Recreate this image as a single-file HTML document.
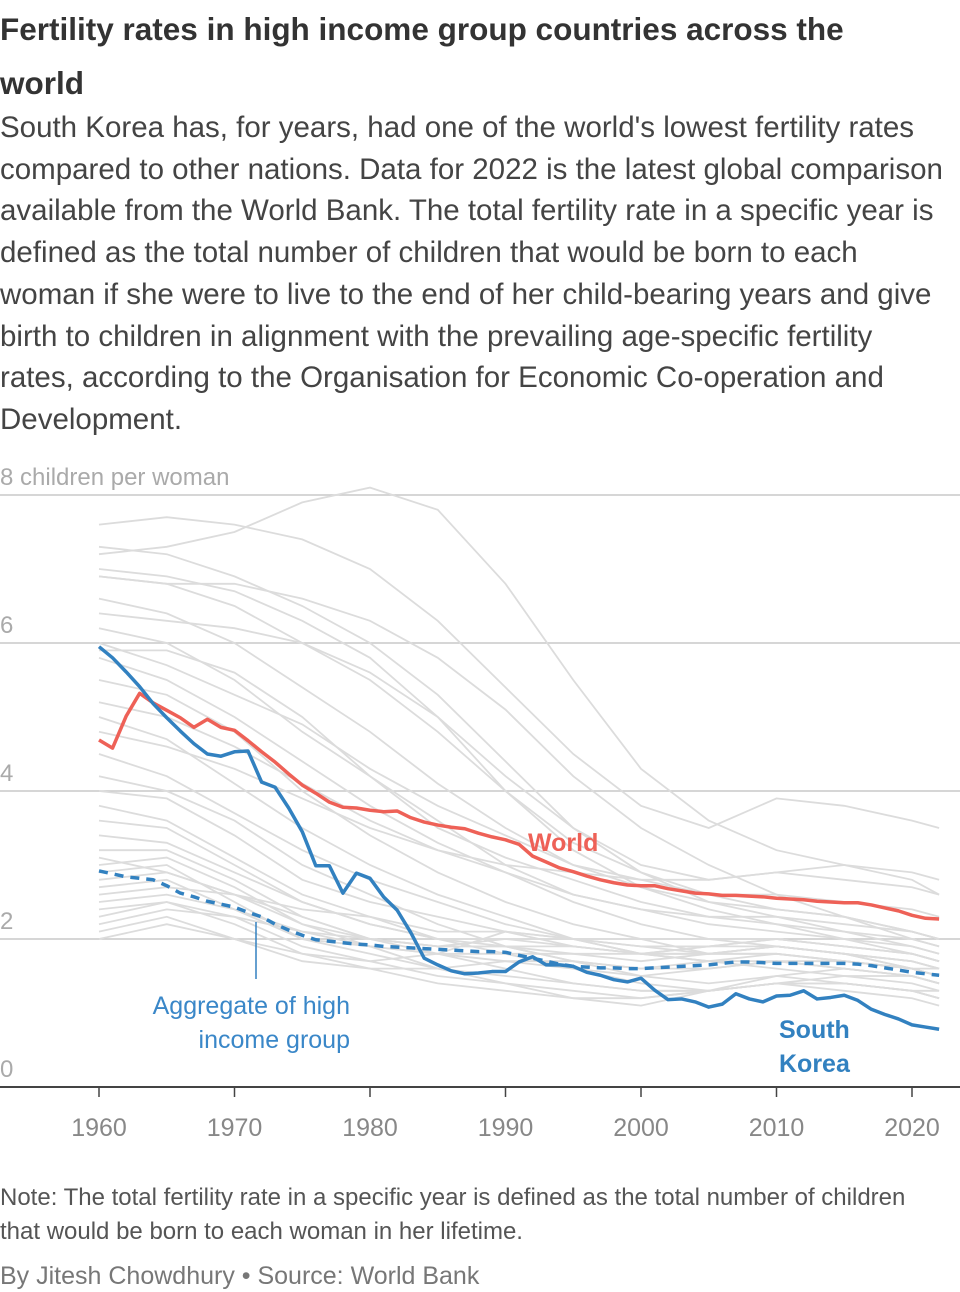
<!DOCTYPE html>
<html><head><meta charset="utf-8">
<style>
body{margin:0;width:960px;height:1292px;background:#fff;position:relative;overflow:hidden;font-family:"Liberation Sans",sans-serif;}
.t{position:absolute;left:0;white-space:nowrap;}
#title{top:2px;font-size:31.5px;font-weight:bold;color:#333;line-height:54px;}
#sub{top:107px;font-size:29.5px;color:#444;line-height:41.7px;}
#note{top:1181px;font-size:24px;color:#555;line-height:34px;}
#by{top:1262px;font-size:25px;color:#777;}
svg{position:absolute;left:0;top:0;}
</style></head><body>
<div class="t" id="title">Fertility rates in high income group countries across the<br>world</div>
<div class="t" id="sub">South Korea has, for years, had one of the world's lowest fertility rates<br>compared to other nations. Data for 2022 is the latest global comparison<br>available from the World Bank. The total fertility rate in a specific year is<br>defined as the total number of children that would be born to each<br>woman if she were to live to the end of her child-bearing years and give<br>birth to children in alignment with the prevailing age-specific fertility<br>rates, according to the Organisation for Economic Co-operation and<br>Development.</div>
<svg id="chart" width="960" height="1160"></svg>
<div class="t" id="note">Note: The total fertility rate in a specific year is defined as the total number of children<br>that would be born to each woman in her lifetime.</div>
<div class="t" id="by">By Jitesh Chowdhury • Source: World Bank</div>
<script>
const yTicks=[0,2,4,6,8];
const xTicks=[1960,1970,1980,1990,2000,2010,2020];
const greyYears=[1960,1965,1970,1975,1980,1985,1990,1995,2000,2005,2010,2015,2020,2022];
const greySeries=[
[7.2,7.3,7.5,7.9,8.1,7.8,6.8,5.5,4.3,3.6,3.2,3.0,2.8,2.6],
[7.6,7.7,7.6,7.4,7.0,6.3,5.4,4.5,3.8,3.5,3.9,3.8,3.6,3.5],
[7.3,7.2,6.9,6.5,6.0,5.3,4.4,3.5,2.9,2.5,2.3,2.1,1.9,1.8],
[6.9,6.8,6.5,6.0,5.5,4.8,4.0,3.3,2.9,2.6,2.6,2.5,2.4,2.3],
[6.6,6.4,6.0,5.4,4.8,4.1,3.5,3.0,2.7,2.5,2.4,2.3,2.1,2.0],
[6.2,6.0,5.5,4.8,4.2,3.6,3.0,2.6,2.4,2.2,2.1,2.0,1.8,1.7],
[5.8,5.5,5.0,4.4,3.8,3.3,2.9,2.5,2.2,2.0,1.9,1.8,1.7,1.6],
[7.0,6.9,6.7,6.3,5.8,5.0,4.0,3.2,2.7,2.4,2.2,2.0,1.9,1.8],
[5.5,5.3,4.8,4.0,3.4,2.9,2.5,2.2,2.0,1.8,1.8,1.7,1.6,1.5],
[5.0,4.7,4.1,3.5,3.0,2.6,2.3,2.0,1.8,1.7,1.6,1.5,1.4,1.3],
[4.5,4.2,3.7,3.2,2.8,2.5,2.2,2.0,1.9,1.9,1.9,1.8,1.7,1.6],
[6.4,6.3,6.2,6.0,5.6,5.0,4.2,3.5,3.0,2.8,2.9,3.0,2.9,2.8],
[4.0,3.9,3.4,2.8,2.5,2.3,2.1,1.9,1.8,1.7,1.7,1.6,1.5,1.4],
[3.6,3.5,3.0,2.5,2.2,2.0,1.9,1.7,1.6,1.6,1.7,1.6,1.5,1.4],
[3.0,3.1,2.7,2.2,1.9,1.8,1.7,1.6,1.5,1.6,1.7,1.7,1.6,1.5],
[2.9,3.0,2.5,2.0,1.8,1.6,1.5,1.4,1.3,1.3,1.4,1.5,1.5,1.4],
[2.7,2.8,2.4,2.0,1.9,1.8,1.8,1.8,1.8,1.9,2.0,1.9,1.8,1.7],
[2.5,2.6,2.4,2.1,1.9,1.6,1.4,1.3,1.2,1.3,1.4,1.4,1.3,1.3],
[2.4,2.5,2.3,1.9,1.7,1.5,1.4,1.2,1.1,1.3,1.5,1.6,1.5,1.4],
[2.2,2.4,2.3,2.1,2.0,1.9,1.9,1.8,1.7,1.8,1.9,1.8,1.7,1.6],
[2.1,2.3,2.0,1.7,1.6,1.6,1.7,1.7,1.6,1.7,1.8,1.7,1.6,1.5],
[3.4,3.3,2.9,2.5,2.2,2.0,2.0,2.0,2.0,2.0,2.0,1.9,1.8,1.7],
[3.8,3.6,3.1,2.6,2.3,2.1,2.1,2.0,1.9,1.8,1.9,1.8,1.6,1.5],
[2.6,2.7,2.6,2.4,2.3,2.0,1.8,1.6,1.4,1.3,1.4,1.3,1.2,1.1],
[2.3,2.5,2.2,1.8,1.7,1.8,2.1,2.0,1.8,1.8,1.9,1.8,1.6,1.5],
[3.2,3.2,2.8,2.3,2.0,1.8,1.6,1.4,1.3,1.3,1.4,1.4,1.3,1.2],
[5.2,5.0,4.6,4.1,3.6,3.2,2.9,2.6,2.4,2.3,2.3,2.2,2.1,2.0],
[4.8,4.6,4.3,3.9,3.5,3.2,3.0,2.9,2.8,2.8,2.9,2.8,2.7,2.6],
[6.9,6.8,6.8,6.6,6.3,5.8,5.1,4.2,3.5,3.0,2.6,2.3,2.0,1.9],
[5.9,5.9,5.6,5.0,4.2,3.5,3.1,2.8,2.5,2.3,2.2,2.1,2.0,1.9],
[3.1,2.9,2.6,2.2,2.0,1.9,1.9,1.9,1.8,1.8,1.8,1.7,1.6,1.6],
[4.2,4.0,3.6,3.0,2.6,2.2,1.9,1.7,1.5,1.4,1.5,1.4,1.3,1.2],
[2.8,2.9,2.6,2.3,2.0,1.9,2.0,1.9,1.8,1.9,2.0,1.9,1.8,1.7],
[6.0,5.7,5.3,4.9,4.3,3.8,3.4,3.0,2.8,2.6,2.4,2.3,2.1,2.0],
[2.0,2.2,2.0,1.8,1.6,1.4,1.3,1.2,1.2,1.3,1.4,1.4,1.3,1.2]
];
const worldValues=[4.69,4.58,5.01,5.32,5.19,5.09,4.99,4.86,4.97,4.86,4.82,4.68,4.53,4.39,4.23,4.08,3.97,3.85,3.78,3.77,3.74,3.72,3.73,3.64,3.58,3.54,3.51,3.49,3.43,3.38,3.34,3.28,3.12,3.04,2.96,2.91,2.85,2.80,2.76,2.73,2.72,2.72,2.68,2.65,2.62,2.61,2.59,2.59,2.58,2.57,2.55,2.54,2.53,2.51,2.50,2.49,2.49,2.46,2.42,2.38,2.32,2.28,2.27];
const koreaValues=[5.95,5.80,5.61,5.41,5.18,4.99,4.81,4.64,4.50,4.47,4.53,4.54,4.12,4.05,3.77,3.45,2.99,2.99,2.62,2.89,2.82,2.57,2.39,2.09,1.74,1.65,1.57,1.53,1.54,1.56,1.56,1.69,1.76,1.65,1.65,1.63,1.55,1.51,1.45,1.42,1.47,1.31,1.18,1.19,1.15,1.08,1.12,1.26,1.19,1.15,1.23,1.24,1.30,1.19,1.21,1.24,1.17,1.05,0.98,0.92,0.84,0.81,0.78];
const aggValues=[2.92,2.88,2.84,2.82,2.80,2.72,2.62,2.57,2.51,2.47,2.43,2.36,2.30,2.20,2.12,2.05,1.99,1.97,1.95,1.93,1.92,1.90,1.89,1.88,1.87,1.86,1.85,1.84,1.83,1.83,1.82,1.78,1.74,1.70,1.66,1.63,1.62,1.61,1.61,1.60,1.60,1.61,1.62,1.63,1.64,1.65,1.67,1.69,1.69,1.68,1.67,1.67,1.67,1.67,1.67,1.67,1.66,1.64,1.61,1.58,1.55,1.53,1.51];
const startYear=1960;
const NS='http://www.w3.org/2000/svg';
const svg=document.getElementById('chart');
const X=yr=>99+(yr-1960)*13.55;
const Y=v=>1087-v*74;
function mk(tag,attrs){const e=document.createElementNS(NS,tag);for(const k in attrs)e.setAttribute(k,attrs[k]);svg.appendChild(e);return e;}
yTicks.forEach(v=>{
  if(v>0){const g=mk('line',{x1:0,x2:960,y1:Y(v),y2:Y(v),stroke:'#c8c8c8','stroke-width':1.5});
  
  }
  const t=mk('text',{x:0,y:Y(v)-10,'font-size':24,fill:'#aaa','font-family':'Liberation Sans, sans-serif'});
  t.textContent=v===8?'8 children per woman':String(v);
  
  
});
greySeries.forEach((s,i)=>{
  const p=mk('polyline',{points:s.map((v,j)=>X(greyYears[j])+','+Y(v)).join(' '),fill:'none',stroke:'#dcdcdc','stroke-width':1.8});
  
  
});
function series(vals,color,dash,name){
  const p=mk('polyline',{points:vals.map((v,j)=>X(startYear+j)+','+Y(v)).join(' '),fill:'none',stroke:color,'stroke-width':3.5,'stroke-linejoin':'round'});
  if(dash)p.setAttribute('stroke-dasharray','9 7');
  
  
}
series(aggValues,'#3281c0',true,'high-income-aggregate-line');
series(worldValues,'#ee6157',false,'world-line');
series(koreaValues,'#3281c0',false,'south-korea-line');
const ax=mk('line',{x1:0,x2:960,y1:1087,y2:1087,stroke:'#444','stroke-width':2});


xTicks.forEach(yr=>{
  const tk=mk('line',{x1:X(yr),x2:X(yr),y1:1087,y2:1097,stroke:'#444','stroke-width':1.5});
  
  
  const t=mk('text',{x:X(yr),y:1136,'font-size':25,fill:'#888','text-anchor':'middle','font-family':'Liberation Sans, sans-serif'});
  t.textContent=yr;
  
  
});
const an=mk('line',{x1:256,x2:256,y1:922,y2:979,stroke:'#3281c0','stroke-width':1.5});


function label(txt,x,y,color,bold,anchor,name,size){
  const t=mk('text',{x:x,y:y,'font-size':size,fill:color,'font-weight':bold?'bold':'normal','text-anchor':anchor,'font-family':'Liberation Sans, sans-serif'});
  t.textContent=txt;
  
  
}
label('World',528,851,'#ee6157',true,'start','world-label',25);
label('South',779,1038,'#3281c0',true,'start','south-korea-label-1',25);
label('Korea',779,1072,'#3281c0',true,'start','south-korea-label-2',25);
label('Aggregate of high',350,1014,'#3a87c8',false,'end','aggregate-label-1',25);
label('income group',350,1048,'#3a87c8',false,'end','aggregate-label-2',25);
</script>
</body></html>
